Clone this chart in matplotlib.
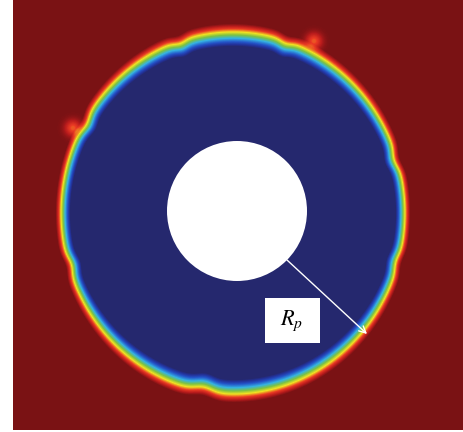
import numpy as np
import matplotlib.pyplot as plt
from matplotlib.colors import LinearSegmentedColormap
from matplotlib.patches import Circle, Rectangle

plt.rcParams['mathtext.fontset'] = 'stix'

# domain (pixel units), droplet geometry
domain_x = [13, 463]
domain_y = [0, 430]
center = (233, 213)
outer_radius = (170, 178)       # semi-axes of the interface (x, y)
inner_center = (237, 211)
inner_radius = 70
band_side = 15.0                # interface thickness at left/right
band_top = 23.0                 # interface thickness at top/bottom

# local dents of the interface: angle (deg), amplitude (px), width (deg)
dent_angles = [150, 197, 17.5, -16, 260, 108, 72]
dent_amps = [-3, -3, -3, -2.5, -4, -2.5, -2.5]
dent_widths = [2.5, 2.5, 2.5, 2.5, 3, 2, 2]

# small hot spots on the outer side of the interface
spot_x = [73, 314]
spot_y = [128, 41]
spot_depth = [0.22, 0.22]

colors = [(0.00, '#25286e'), (0.06, '#23329a'), (0.16, '#2453c8'),
          (0.33, '#35b3e3'), (0.50, '#7cc242'), (0.66, '#f1e322'),
          (0.81, '#ea3a24'), (0.92, '#b81b1c'), (1.00, '#7a1214')]
cmap = LinearSegmentedColormap.from_list('phase', colors)

xs = np.arange(domain_x[0], domain_x[1]) + 0.5
ys = np.arange(domain_y[0], domain_y[1]) + 0.5
X, Y = np.meshgrid(xs, ys)
dx = (X - center[0]) / outer_radius[0]
dy = (center[1] - Y) / outer_radius[1]
theta = np.degrees(np.arctan2(dy, dx))
rho = np.hypot(dx, dy)

r_mod = np.ones_like(rho)
for a, amp, w in zip(dent_angles, dent_amps, dent_widths):
    d = (theta - a + 180) % 360 - 180
    r_mod += amp / outer_radius[0] * np.exp(-0.5 * (d / w) ** 2)

# distance from the interface in pixels
dist = (rho - r_mod) * np.hypot(dx * outer_radius[0], dy * outer_radius[1]) / np.maximum(rho, 1e-6)
band = band_side + (band_top - band_side) * np.sin(np.radians(theta)) ** 2
t = np.clip(dist / band + 0.5, 0, 1)
phi = t * t * (3 - 2 * t) * 0.4 + t * 0.6

for sx, sy, sd in zip(spot_x, spot_y, spot_depth):
    g = np.exp(-((X - sx) ** 2 + (Y - sy) ** 2) / (2 * 5.5 ** 2))
    phi -= sd * g * np.clip((phi - 0.7) / 0.2, 0, 1)

fig = plt.figure(figsize=(4.63, 4.32), dpi=100)
ax = fig.add_axes([0, 0, 1, 1])
ax.imshow(phi, cmap=cmap, vmin=0, vmax=1, interpolation='bilinear',
          extent=(domain_x[0], domain_x[1], domain_y[1], domain_y[0]))
ax.add_patch(Circle(inner_center, inner_radius, facecolor='white', edgecolor='none'))
ax.set_xlim(0, 463)
ax.set_ylim(432, 0)
ax.axis('off')

# radius marker
ax.annotate('', xy=(367, 334), xytext=(287, 260),
            arrowprops=dict(arrowstyle='->', color='white', lw=1.0,
                            mutation_scale=12, shrinkA=0, shrinkB=0))
ax.add_patch(Rectangle((265, 298), 55, 45, facecolor='white', edgecolor='none'))
ax.text(292, 321, r'$R_p$', fontsize=16, ha='center', va='center', color='black')

fig.savefig('out.png', dpi=100)
